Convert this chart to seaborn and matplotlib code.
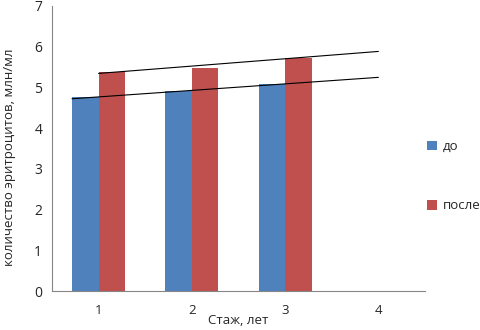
import numpy as np
import pandas as pd
import matplotlib
matplotlib.use("Agg")
import matplotlib.pyplot as plt
import seaborn as sns

categories = ["1", "2", "3", "4"]
stages = ["1", "2", "3"]
before = [4.77, 4.92, 5.09]
after = [5.37, 5.47, 5.73]
series_names = ["до", "после"]
colors = ["#4F81BD", "#C0504D"]

sns.set_style("white")
plt.rcParams['font.family'] = ['Open Sans', 'DejaVu Sans']

df = pd.DataFrame({
    "stage": stages * 2,
    "value": before + after,
    "series": [series_names[0]] * 3 + [series_names[1]] * 3,
})

fig = plt.figure(figsize=(4.81, 3.30), dpi=100)
ax = fig.add_axes([0.108, 0.118, 0.7756, 0.864])
width = 0.57
sns.barplot(data=df, x="stage", y="value", hue="series", order=categories,
            hue_order=series_names, palette=colors, width=width, dodge=True,
            saturation=1, ax=ax, legend=False, edgecolor="none")

# linear trendlines
half = width / 2
xs = np.arange(3)
for vals, x0 in [(before, -half), (after, 0.0)]:
    k, b = np.polyfit(xs, vals, 1)
    xx = np.array([x0, 3.0])
    ax.plot(xx, k * xx + b, color="black", lw=0.8)

ax.set_xlim(-0.5, 3.5)
ax.set_ylim(0, 7)
ax.set_yticks(range(0, 8))
ax.set_xticks(range(4))
ax.set_xticklabels(categories)
ax.set_xticks(np.arange(-0.5, 4.0, 1.0), minor=True)
ax.tick_params(axis="x", which="major", length=0, pad=9, labelsize=9.5)
ax.tick_params(axis="x", which="minor", length=4, color="#868686", width=0.8)
ax.tick_params(axis="y", length=4, color="#868686", width=0.8, labelsize=10, pad=3)
for s in ["top", "right"]:
    ax.spines[s].set_visible(False)
for s in ["left", "bottom"]:
    ax.spines[s].set_color("#868686")
    ax.spines[s].set_linewidth(0.8)
ax.set_xlabel("Стаж, лет", fontsize=9.5)
ax.set_ylabel("количество эритроцитов, млн/мл", fontsize=9.5)
ax.xaxis.set_label_coords(0.5, -0.08)
ax.yaxis.set_label_coords(-0.097, 0.47)

from matplotlib.patches import Patch
handles = [Patch(facecolor=c, edgecolor="none") for c in colors]
fig.legend(handles, series_names, loc="upper left", bbox_to_anchor=(0.875, 0.595),
           frameon=False, fontsize=9.5, labelspacing=3.5, handlelength=0.75,
           handleheight=0.75, handletextpad=0.4, borderpad=0)

fig.savefig("out.png", dpi=100)
